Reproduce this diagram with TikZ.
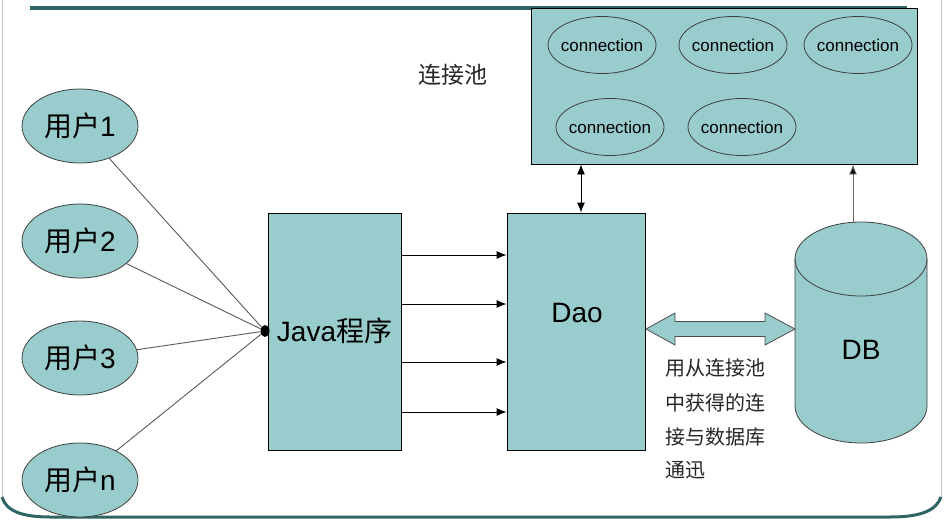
\documentclass[tikz,border=0pt]{standalone}
\usepackage{fontspec}
\setmainfont{Liberation Sans}
\newfontfamily\cjk{Noto Sans CJK SC}
\usetikzlibrary{shapes.geometric,arrows.meta}
\definecolor{tealfill}{HTML}{99CCCC}
\definecolor{frameteal}{HTML}{2F6464}
\definecolor{framegray}{HTML}{C4C4C4}
\begin{document}
\begin{tikzpicture}[x=1pt,y=1pt,
 user/.style={ellipse, draw=black!75, fill=tealfill, minimum width=116pt, minimum height=74pt, inner sep=0pt, line width=0.8pt, font=\fontsize{28}{28}\selectfont},
 conn/.style={ellipse, draw=black!75, fill=tealfill, minimum width=108pt, minimum height=57pt, inner sep=-3.5pt, line width=0.8pt, font=\fontsize{17}{17}\selectfont},
 block/.style={draw=black, fill=tealfill, inner sep=0pt, line width=0.9pt},
 bigtext/.style={font=\fontsize{28}{28}\selectfont, inner sep=0pt},
 wire/.style={draw=black!65, line width=0.9pt},
 flow/.style={draw=black, line width=0.9pt, -{Latex[length=10pt,width=8pt]}},
 note/.style={font=\cjk\fontsize{20}{20}\selectfont, text=black!85, anchor=west, inner sep=0pt}
]
\useasboundingbox (0,0) rectangle (944,523);
% slide frame
\draw[framegray, line width=1pt] (2,523) -- (2,26);
\draw[framegray, line width=1pt] (941,523) -- (941,26);
\draw[frameteal, line width=3pt] (2,26) .. controls (6,12) and (22,6) .. (50,6) -- (890,6) .. controls (920,6) and (936,12) .. (941,26);
\draw[frameteal, line width=3.5pt] (30,515) -- (907,515);

% connection pool
\node[block, minimum width=386pt, minimum height=156pt] (pool) at (724.5,437) {};
\node[conn] (c1) at (602,478) {connection};
\node[conn] (c2) at (733,478) {connection};
\node[conn] (c3) at (858,478) {connection};
\node[conn] (c4) at (610,396) {connection};
\node[conn] (c5) at (742,396) {connection};
\node[font=\cjk\fontsize{23}{23}\selectfont, text=black!85, inner sep=0pt] (pooltitle) at (453,448) {连接池};

% users
\node[user] (u1) at (80,397) {{\cjk 用户}1};
\node[user] (u2) at (80,282) {{\cjk 用户}2};
\node[user] (u3) at (80,165) {{\cjk 用户}3};
\node[user] (un) at (80,43) {{\cjk 用户}n};

% java program
\node[block, minimum width=133pt, minimum height=237pt] (java) at (334.5,191.5) {};
\node[bigtext] (javalabel) at (334.5,192) {Java{\cjk 程序}};
\node[ellipse, fill=black, inner sep=0pt, minimum width=9pt, minimum height=12pt] (hub) at (265,192) {};
\foreach \u in {u1,u2,u3,un} \draw[wire] (\u) -- (hub);

% dao
\node[block, minimum width=138pt, minimum height=237pt] (dao) at (576,191.5) {};
\node[bigtext] (daolabel) at (577,210) {Dao};
\foreach \dy in {76.5,27.5,-30.5,-80.5}
  \draw[flow] ([yshift=\dy pt]java.east) -- ([yshift=\dy pt]dao.west);
\draw[flow, {Latex[length=10pt,width=8pt]}-{Latex[length=10pt,width=8pt]}] ([xshift=5pt]dao.north) -- ([xshift=5pt]dao.north |- pool.south);

% database cylinder
\filldraw[fill=tealfill, draw=black!75, line width=0.8pt] (795,264) -- (795,117) arc[start angle=180, end angle=360, x radius=66, y radius=37] -- (927,264) arc[start angle=0, end angle=180, x radius=66, y radius=37] -- cycle;
\draw[black!75, line width=0.8pt] (795,264) arc[start angle=180, end angle=360, x radius=66, y radius=37];
\coordinate (dbtop) at (853,300);
\node[bigtext] (dblabel) at (861,173) {DB};
\draw[flow, draw=black!60, -{Latex[length=10pt,width=8pt,fill=black]}] (dbtop) -- (dbtop |- pool.south);

% block double arrow
\filldraw[fill=tealfill, draw=black!70, line width=0.8pt] (646,194) -- (675,210) -- (675,201.5) -- (765,201.5) -- (765,210) -- (795,194) -- (765,178) -- (765,186.5) -- (675,186.5) -- (675,178) -- cycle;

% note
\node[note] (n1) at (665,155) {用从连接池};
\node[note] (n2) at (665,120) {中获得的连};
\node[note] (n3) at (665,86) {接与数据库};
\node[note] (n4) at (665,53) {通迅};
\end{tikzpicture}
\end{document}
